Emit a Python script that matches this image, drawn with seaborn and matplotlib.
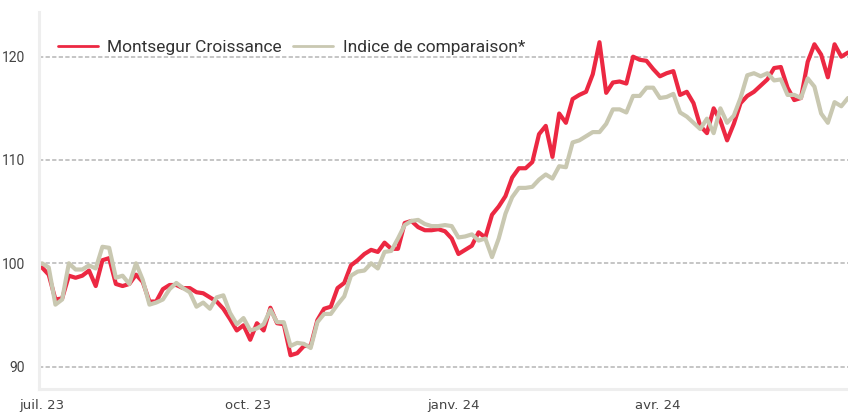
import pandas as pd
import matplotlib.pyplot as plt
import matplotlib.dates as mdates
import seaborn as sns

# one reading every 3 days from 1 July 2023
start = "2023-07-01"
step_days = 3

fund = [
    99.6, 98.9, 96.5, 96.6, 98.8, 98.6, 98.8, 99.3, 97.8, 100.3,
    100.5, 98.0, 97.8, 98.0, 98.9, 98.2, 96.3, 96.3, 97.5, 97.9,
    97.9, 97.6, 97.6, 97.2, 97.1, 96.7, 96.3, 95.6, 94.6, 93.5,
    94.0, 92.6, 94.2, 93.5, 95.7, 94.2, 94.1, 91.1, 91.3, 92.0,
    92.0, 94.5, 95.6, 95.8, 97.6, 98.1, 99.8, 100.3, 100.9, 101.3,
    101.1, 102.0, 101.4, 101.4, 103.9, 104.1, 103.5, 103.2, 103.2, 103.3,
    103.1, 102.4, 100.9, 101.3, 101.7, 103.0, 102.5, 104.7, 105.5, 106.5,
    108.3, 109.2, 109.2, 109.8, 112.5, 113.3, 110.3, 114.5, 113.6, 115.9,
    116.3, 116.6, 118.3, 121.4, 116.5, 117.5, 117.6, 117.4, 120.0, 119.7,
    119.6, 118.8, 118.1, 118.4, 118.6, 116.3, 116.6, 115.5, 113.3, 112.6,
    115.0, 113.8, 111.9, 113.5, 115.5, 116.2, 116.6, 117.2, 117.8, 118.9,
    119.0, 117.0, 115.8, 116.0, 119.5, 121.2, 120.2, 118.0, 121.2, 120.0,
    120.4,
]

index = [
    100.0, 99.6, 96.0, 96.5, 100.0, 99.4, 99.4, 99.8, 99.5, 101.6,
    101.5, 98.6, 98.8, 98.0, 100.0, 98.4, 96.0, 96.2, 96.5, 97.5,
    98.1, 97.6, 97.2, 95.8, 96.2, 95.6, 96.7, 96.9, 95.2, 94.1,
    94.7, 93.5, 93.7, 94.1, 95.5, 94.3, 94.3, 92.0, 92.3, 92.2,
    91.8, 94.3, 95.1, 95.1, 96.0, 96.8, 98.8, 99.2, 99.3, 100.0,
    99.5, 101.1, 101.2, 102.4, 103.7, 104.1, 104.2, 103.8, 103.6, 103.6,
    103.7, 103.6, 102.5, 102.6, 102.8, 102.2, 102.4, 100.6, 102.4, 104.8,
    106.4, 107.3, 107.3, 107.4, 108.1, 108.6, 108.2, 109.4, 109.3, 111.7,
    111.9, 112.3, 112.7, 112.7, 113.5, 114.9, 114.9, 114.6, 116.2, 116.2,
    117.0, 117.0, 116.0, 116.1, 116.4, 114.6, 114.2, 113.6, 113.0, 114.0,
    112.6, 115.0, 113.6, 114.3, 116.0, 118.2, 118.4, 118.1, 118.4, 117.7,
    117.8, 116.3, 116.3, 116.0, 117.9, 117.1, 114.5, 113.6, 115.6, 115.2,
    116.0,
]

series_names = ["Montsegur Croissance", "Indice de comparaison*"]
colors = ["#ec2842", "#c9c8b1"]

tick_dates = ["2023-07-01", "2023-10-01", "2024-01-01", "2024-04-01"]
tick_labels = ["juil. 23", "oct. 23", "janv. 24", "avr. 24"]
y_ticks = [90, 100, 110, 120]

dates = pd.date_range(start, periods=len(fund), freq=f"{step_days}D")
df = pd.concat([
    pd.DataFrame({"date": dates, "value": fund, "serie": series_names[0]}),
    pd.DataFrame({"date": dates, "value": index, "serie": series_names[1]}),
])

sns.set_style("white")
plt.rcParams["font.family"] = ["Roboto", "DejaVu Sans"]

fig = plt.figure(figsize=(8.48, 4.12), dpi=100)
ax = fig.add_axes([0.046, 0.056, 0.954, 0.915])

for y in y_ticks:
    ax.axhline(y, color="#b5b5b5", lw=1.1, ls=(0, (2.8, 1.5)), zorder=0)

sns.lineplot(data=df, x="date", y="value", hue="serie", hue_order=series_names,
             palette=colors, linewidth=3, ax=ax, legend=False)

ax.set_xlim(pd.Timestamp("2023-06-29 16:00"), pd.Timestamp("2024-06-25"))
ax.set_ylim(87.84, 124.33)
ax.set_xlabel("")
ax.set_ylabel("")

ax.set_yticks(y_ticks)
ax.set_yticklabels([str(v) for v in y_ticks], fontsize=10, color="#444444")
ax.set_xticks([mdates.date2num(pd.Timestamp(d)) for d in tick_dates])
ax.set_xticklabels(tick_labels, fontsize=9.5, color="#444444",
                   family=["Liberation Sans Narrow", "DejaVu Sans"])
ax.tick_params(axis="both", length=0)
ax.tick_params(axis="y", pad=10)
ax.tick_params(axis="x", pad=7)

for side in ["top", "right"]:
    ax.spines[side].set_visible(False)
for side in ["left", "bottom"]:
    ax.spines[side].set_color("#eeeeee")
    ax.spines[side].set_linewidth(2.2)

handles = [plt.Line2D([], [], color=c, lw=2) for c in colors]
leg = ax.legend(handles, series_names, loc="center left", bbox_to_anchor=(0.0235, 0.907),
                ncol=2, frameon=False, fontsize=12.5, handlelength=2.3,
                handletextpad=0.55, columnspacing=0.65, borderpad=0, borderaxespad=0)
for t in leg.get_texts():
    t.set_color("#333333")

fig.savefig("out.png", dpi=100)
